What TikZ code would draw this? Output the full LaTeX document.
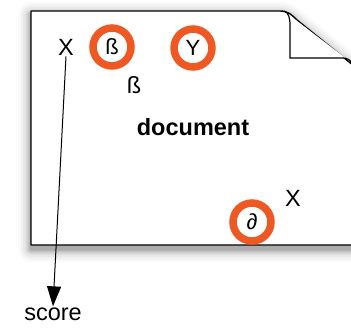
\documentclass[tikz,border=0pt]{standalone}
\usepackage{fontspec}
\setmainfont{Liberation Sans}
\usetikzlibrary{arrows.meta, calc}
\definecolor{ringorange}{RGB}{238,88,34}

\tikzset{
	ring/.style={circle, draw=ringorange, line width=7.5pt, minimum size=38pt, inner sep=0pt, font=\fontsize{22}{24}\selectfont},
	word/.style={inner sep=1pt, font=\fontsize{23.5}{26}\selectfont}
}

\newcommand{\pagepath}{(31,11) -- (280,11) .. controls (288,11) and (292,15) .. (297,20) -- (364,74) -- (364,245) -- (31,245) -- cycle}

\begin{document}
\begin{tikzpicture}[x=1pt, y=-1pt]
	\useasboundingbox (0,0) rectangle (351,329);

	% soft shadow under the sheet
	\foreach \w/\c in {26/2, 21/5, 16/9, 11/15, 7/23, 3/33} {
		\filldraw [black!\c, line width=\w pt, line join=round, yshift=-4pt] \pagepath;
	}
	\filldraw [fill=white, draw=black, line width=1.4pt, line join=round] \pagepath;

	% folded corner
	\draw [line width=1.2pt, fill=white] (284,11) .. controls (289,13) and (290,18) .. (290,26) -- (290,58) -- (343,58) .. controls (347,58) and (350,60) .. (352,63);

	\node [word] (xtop) at (66,47) {X};
	\node [ring] (beta) at (112,47) {ß};
	\node [ring] (why) at (193,48) {Y};
	\node [word] (betalow) at (134,85) {ß};
	\node [word, font=\fontsize{23.5}{26}\selectfont\bfseries] (doc) at (193,127) {document};
	\node [word] (xlow) at (293,198) {X};
	\node [ring] (partial) at (252,222) {∂};
	\node [word] (score) at (53,314) {score};

	\draw [line width=1pt, -{Triangle[length=20pt, width=14pt]}] (xtop.south) -- (score.north);

\end{tikzpicture}
\end{document}
